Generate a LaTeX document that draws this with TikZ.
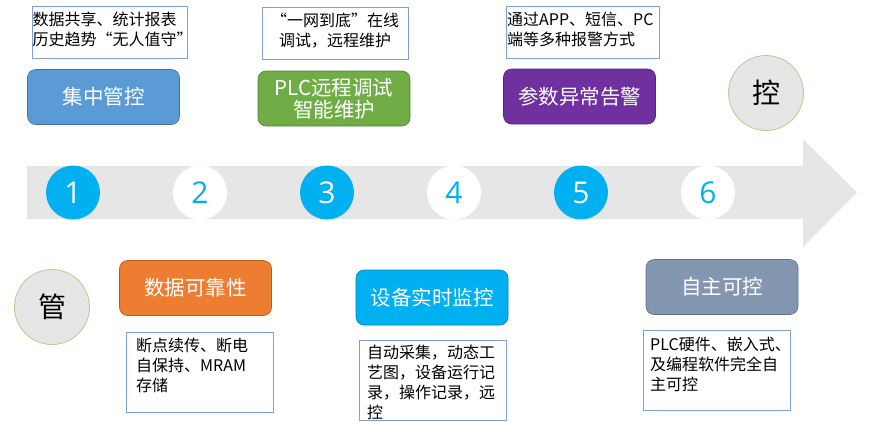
\documentclass[tikz,border=0pt]{standalone}
\usepackage{fontspec}
\setmainfont{Noto Sans CJK SC}
\newfontfamily\numfont{Open Sans}
\usepackage{tikz}
\definecolor{arrowgray}{HTML}{E6E6E6}
\definecolor{dotcyan}{HTML}{00B0F0}
\definecolor{boxblue}{HTML}{5B9BD5}
\definecolor{boxgreen}{HTML}{70AD47}
\definecolor{boxpurple}{HTML}{7030A0}
\definecolor{boxorange}{HTML}{ED7D31}
\definecolor{boxslate}{HTML}{8497B0}
\definecolor{notefr}{HTML}{7F9FD8}
\definecolor{ringgreen}{HTML}{A9D18E}
\definecolor{ringfill}{HTML}{E7E6E6}
\tikzset{
    numdot/.style={circle,fill=dotcyan,text=white,minimum size=54pt,inner sep=0pt,font=\numfont\fontsize{30}{30}\selectfont},
    numring/.style={numdot,fill=white,text=dotcyan},
    title/.style={rounded corners=8pt,draw=#1!75!black,fill=#1,line width=0.6pt,text=white,minimum width=152pt,minimum height=55pt,align=center,font=\fontsize{20.5}{22}\selectfont},
    note/.style={draw=notefr,fill=white,line width=0.8pt,anchor=north west,inner sep=0pt},
    notetext/.style={anchor=north west,align=left,inner sep=0pt,font=\fontsize{16}{20}\selectfont},
    bigdot/.style={circle,draw=ringgreen,fill=ringfill,line width=0.8pt,minimum size=75pt,inner sep=0pt,font=\fontsize{28}{28}\selectfont}
}

\begin{document}
\begin{tikzpicture}[x=1pt,y=-1pt]
\useasboundingbox (0,0) rectangle (880,421);

% timeline arrow
\fill[arrowgray] (27,166) -- (803,166) -- (803,139) -- (857,192.5) -- (803,247) -- (803,219) -- (27,219) -- cycle;

\node[numdot] (d1) at (73,192.5) {1};
\node[numring] (d2) at (200,192.5) {2};
\node[numdot] (d3) at (327,192.5) {3};
\node[numring] (d4) at (454,192.5) {4};
\node[numdot] (d5) at (581,192.5) {5};
\node[numring] (d6) at (708,192.5) {6};

% upper row
\node[title=boxblue] (b1) at (103.5,97) {集中管控};
\node[title=boxgreen] (b3) at (334,98.5) {PLC远程调试\\智能维护};
\node[title=boxpurple] (b5) at (579.5,96.5) {参数异常告警};

\node[note,minimum width=155pt,minimum height=52pt] (m1) at (32,6) {};
\node[notetext] (t1) at (32.5,12) {数据共享、统计报表\\历史趋势“无人值守”};
\node[note,minimum width=146pt,minimum height=52pt] (m3) at (262,7) {};
\node[notetext,anchor=north,align=center] (t3) at (335,13) {“一网到底”在线\\调试，远程维护};
\node[note,minimum width=153pt,minimum height=52pt] (m5) at (506,6) {};
\node[notetext] (t5) at (507,12) {通过APP、短信、PC\\端等多种报警方式};

\node[bigdot] (kong) at (766,93) {控};

% lower row
\node[bigdot] (guan) at (52,307) {管};

\node[title=boxorange] (b2) at (195.5,288) {数据可靠性};
\node[title=dotcyan] (b4) at (432,297.5) {设备实时监控};
\node[title=boxslate] (b6) at (722,287) {自主可控};

\node[note,minimum width=147pt,minimum height=80pt] (m2) at (126,332) {};
\node[notetext] (t2) at (136,338) {断点续传、断电\\自保持、MRAM\\存储};
\node[note,minimum width=147pt,minimum height=80pt] (m4) at (359,340) {};
\node[notetext] (t4) at (367,345) {自动采集，动态工\\艺图，设备运行记\\录，操作记录，远\\控};
\node[note,minimum width=147pt,minimum height=80pt] (m6) at (643,330) {};
\node[notetext] (t6) at (650,337) {PLC硬件、嵌入式、\\及编程软件完全自\\主可控};

\end{tikzpicture}
\end{document}
